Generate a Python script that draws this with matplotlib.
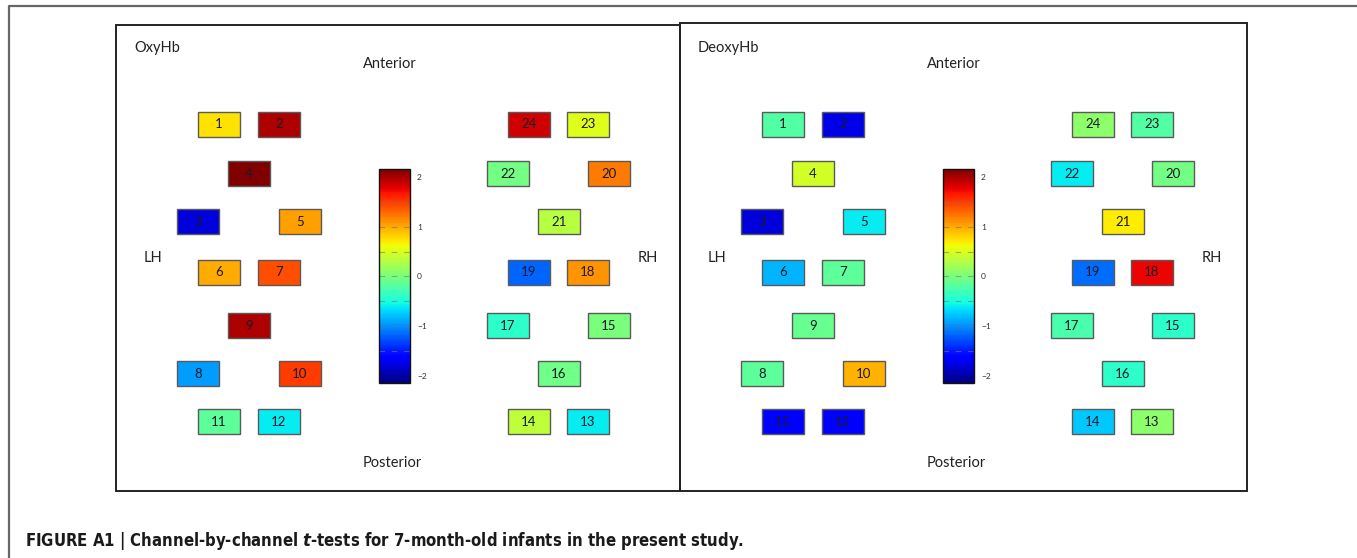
import matplotlib.pyplot as plt
import matplotlib.colors as mcolors
from matplotlib.patches import Rectangle
import matplotlib.cm as cm
import numpy as np

plt.rcParams['font.family'] = ['Lato', 'DejaVu Sans']

# data: t-values per channel
channels = list(range(1, 25))
oxy_t = [0.75, 2.0, -1.8, 2.2, 1.05, 1.0, 1.42, -0.95, 2.0, 1.5, -0.15, -0.6,
         -0.6, 0.35, 0.0, -0.05, -0.4, 1.09, -1.18, 1.22, 0.32, -0.03, 0.52, 1.85]
deoxy_t = [-0.2, -1.75, -1.8, 0.45, -0.6, -0.85, -0.15, -0.15, -0.1, 0.96, -1.65, -1.65,
           0.1, -0.75, -0.4, -0.4, -0.25, 1.75, -1.15, -0.03, 0.7, -0.6, -0.2, 0.1]
panel_names = ['OxyHb', 'DeoxyHb']
cbar_ticks = [-2, -1, 0, 1, 2]
caption = 'FIGURE A1 | Channel-by-channel $\\mathbfit{t}$-tests for 7-month-old infants in the present study.'

# layout of the probe: (column, row) for every channel
# columns: 0..4 left hemisphere, 5..9 right hemisphere
layout = {1: (1, 0), 2: (3, 0), 4: (2, 1), 3: (0, 2), 5: (4, 2), 6: (1, 3), 7: (3, 3),
          9: (2, 4), 8: (0, 5), 10: (4, 5), 11: (1, 6), 12: (3, 6),
          24: (6, 0), 23: (8, 0), 22: (5, 1), 20: (9, 1), 21: (7, 2), 19: (6, 3), 18: (8, 3),
          17: (5, 4), 15: (9, 4), 16: (7, 5), 14: (6, 6), 13: (8, 6)}
col_x = [82, 103, 133, 163, 184, 392, 413, 443, 472, 493]
row_y = [124, 173, 221, 272, 325, 373, 421]

W, H = 1357, 558
fig = plt.figure(figsize=(W / 100, H / 100), dpi=100)
ax = fig.add_axes([0, 0, 1, 1])
ax.set_xlim(0, W)
ax.set_ylim(H, 0)
ax.axis('off')

cmap = plt.get_cmap('jet')
norm = mcolors.Normalize(vmin=-2.15, vmax=2.17)

# outer frame
ax.plot([9, 9, W], [H, 5.5, 5.5], color='#666666', lw=1.6, solid_capstyle='butt')

panels = [(116, 25, 564, 466, oxy_t), (680, 23, 567, 468, deoxy_t)]
for i, (px, py, pw, ph, vals) in enumerate(panels):
    ax.add_patch(Rectangle((px, py), pw, ph, fill=False, ec='#222222', lw=1.4))
    ax.text(px + 18, 48, panel_names[i], fontsize=10.5, va='center', ha='left', color='#222222')
    ax.text(px + 274, 64, 'Anterior', fontsize=10.5, va='center', ha='center', color='#222222')
    ax.text(px + 276, 463, 'Posterior', fontsize=10.5, va='center', ha='center', color='#222222')
    ax.text(px + 37, 258, 'LH', fontsize=10.5, va='center', ha='center', color='#222222')
    ax.text(px + 532, 258, 'RH', fontsize=10.5, va='center', ha='center', color='#222222')
    for ch, v in zip(channels, vals):
        c, r = layout[ch]
        cx = px + col_x[c]
        cy = row_y[r]
        ax.add_patch(Rectangle((cx - 21, cy - 12.5), 42, 25, fc=cmap(norm(v)),
                               ec='#5a5a5a', lw=1.0))
        ax.text(cx, cy + 0.5, str(ch), fontsize=9.5, ha='center', va='center', color='#1a1a2a')

    # colourbar
    cx0 = px + 263
    cax = fig.add_axes([cx0 / W, 1 - 383 / H, 31 / W, 214 / H])
    sm = cm.ScalarMappable(norm=norm, cmap=cmap)
    cb = fig.colorbar(sm, cax=cax, ticks=cbar_ticks)
    cb.outline.set_linewidth(1.0)
    cb.outline.set_edgecolor('#111111')
    cax.tick_params(length=0, labelsize=6, pad=5, colors='#333333')
    for lv in np.arange(-1.5, 2.0, 0.5):
        cax.axhline(lv, color='#777777', lw=0.8, ls=(0, (5, 6)), alpha=0.6)

ax.text(25, 541, caption, fontsize=12, fontweight='bold', ha='left', va='center',
        family='DejaVu Sans', fontstretch='condensed', color='#1a1a1a')

fig.savefig('out.png', dpi=100)
